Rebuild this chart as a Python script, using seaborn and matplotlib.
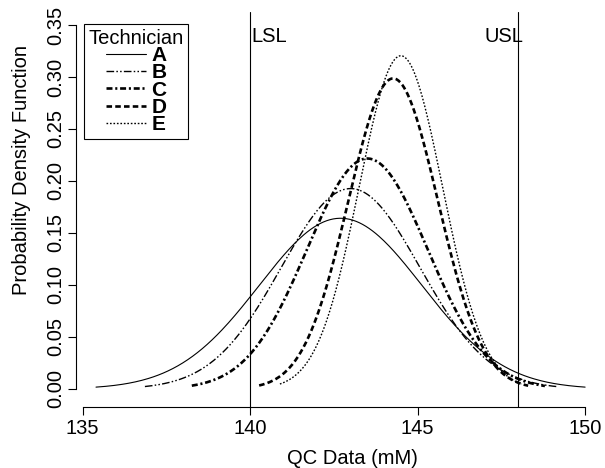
import numpy as np
import pandas as pd
import seaborn as sns
import matplotlib.pyplot as plt

# Technician summary (normal fit per technician)
technicians = ["A", "B", "C", "D", "E"]
qc_mean = [142.7, 143.0, 143.5, 144.27, 144.5]
qc_sd = [2.43, 2.07, 1.80, 1.336, 1.245]
qc_min = [135.4, 136.86, 138.26, 140.27, 140.89]
qc_max = [150.0, 149.15, 148.8, 148.3, 148.1]

lsl, usl = 140, 148
x_ticks = [135, 140, 145, 150]
y_ticks = [0.00, 0.05, 0.10, 0.15, 0.20, 0.25, 0.30, 0.35]

# line styles (dash patterns in points)
styles = {
    "A": dict(lw=0.8, ls="-"),
    "B": dict(lw=1.0, ls=(0, (5.5, 1.6, 1.1, 1.6, 1.1, 1.6))),
    "C": dict(lw=1.9, ls=(0, (4.3, 2.0, 1.5, 2.0))),
    "D": dict(lw=1.9, ls=(0, (4.0, 2.3))),
    "E": dict(lw=1.0, ls=(0, (1.2, 1.3))),
}

# build the curves
rows = []
for t, m, s, lo, hi in zip(technicians, qc_mean, qc_sd, qc_min, qc_max):
    xs = np.linspace(lo, hi, 300)
    pdf = np.exp(-0.5 * ((xs - m) / s) ** 2) / (s * np.sqrt(2 * np.pi))
    rows.append(pd.DataFrame({"Technician": t, "qc": xs, "pdf": pdf}))
df = pd.concat(rows, ignore_index=True)

sns.set_style("ticks")
plt.rcParams["font.family"] = ["Liberation Sans", "DejaVu Sans"]
plt.rcParams["lines.scale_dashes"] = False
plt.rcParams["text.color"] = "black"
plt.rcParams["axes.labelcolor"] = "black"

W, H = 605, 468
fig = plt.figure(figsize=(W / 100, H / 100), dpi=100)
ax = fig.add_axes([76 / W, 1 - 406.5 / H, (603.5 - 76) / W, (406.5 - 12) / H])

for t in technicians:
    sns.lineplot(data=df[df["Technician"] == t], x="qc", y="pdf", ax=ax,
                 color="black", linewidth=styles[t]["lw"],
                 linestyle=styles[t]["ls"], label=t, legend=False)

ax.axvline(lsl, color="black", lw=0.8)
ax.axvline(usl, color="black", lw=0.8)
ax.text(lsl + 0.045, 0.3388, "LSL", fontsize=14.5, ha="left", va="center")
ax.text(usl + 0.17, 0.3388, "USL", fontsize=14.5, ha="right", va="center")

ax.set_xlim(134.803, 150.549)
ax.set_ylim(-0.01683, 0.3625)
ax.set_xticks(x_ticks)
ax.set_yticks(y_ticks)
ax.set_yticklabels([f"{v:.2f}" for v in y_ticks], rotation=90, va="center")

for side in ["top", "right"]:
    ax.spines[side].set_visible(False)
ax.spines["left"].set_bounds(0, 0.35)
ax.spines["bottom"].set_bounds(135, 150)
for side in ["left", "bottom"]:
    ax.spines[side].set_linewidth(0.8)
    ax.spines[side].set_color("black")
ax.tick_params(axis="both", direction="out", length=6, width=0.8,
               labelsize=14.5, colors="black")
ax.tick_params(axis="y", pad=2)
ax.tick_params(axis="x", pad=3)

ax.set_xlabel("QC Data (mM)", fontsize=14.5)
ax.set_ylabel("Probability Density Function", fontsize=14.5)
ax.xaxis.set_label_coords((352.5 - 76) / 527.5, (406.5 - 458) / 394.5)
ax.xaxis.label.set_va("center")
ax.yaxis.set_label_coords((22 - 76) / 527.5, (406.5 - 170) / 394.5)
ax.yaxis.label.set_va("center")

handles = ax.lines[:5]
leg = ax.legend(handles, technicians, title="Technician",
                loc="upper left", bbox_to_anchor=(84 / W, 1 - 24 / H),
                bbox_transform=fig.transFigure, borderaxespad=0,
                prop={"weight": "bold", "size": 15}, title_fontsize=14.5,
                handlelength=1.95, handletextpad=0.25, labelspacing=-0.08,
                borderpad=0.22, fancybox=False, frameon=True)
leg.get_frame().set_edgecolor("black")
leg.get_frame().set_linewidth(0.8)
leg.get_frame().set_alpha(1)

fig.savefig("out.png", dpi=100)
